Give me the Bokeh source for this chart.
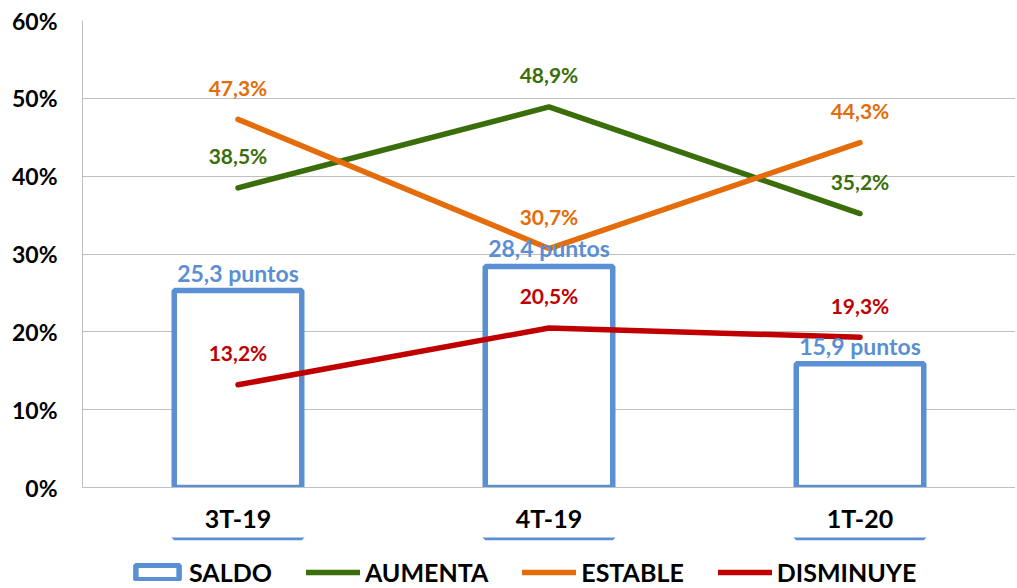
from bokeh.plotting import figure
from bokeh.layouts import column
from bokeh.models import (ColumnDataSource, FactorRange, Range1d, FixedTicker,
                          PrintfTickFormatter, Legend, LegendItem)
from bokeh.core.properties import value
from bokeh.embed import file_html
from bokeh.resources import INLINE

categories = ["3T-19", "4T-19", "1T-20"]
saldo = [25.3, 28.4, 15.9]
aumenta = [38.5, 48.9, 35.2]
estable = [47.3, 30.7, 44.3]
disminuye = [13.2, 20.5, 19.3]
y_ticks = [0, 10, 20, 30, 40, 50, 60]
series_names = ["SALDO", "AUMENTA", "ESTABLE", "DISMINUYE"]

C_SALDO = "#5B8FD3"
C_AUM = "#3A6E0A"
C_EST = "#E46C0A"
C_DIS = "#C00000"
FONT = "Lato"
LW = 5.5


def fmt(v, suffix):
    return f"{v:.1f}".replace(".", ",") + suffix


src = ColumnDataSource(dict(
    x=categories, saldo=saldo, aumenta=aumenta, estable=estable, disminuye=disminuye,
    saldo_lbl=[fmt(v, " puntos") for v in saldo],
    aum_lbl=[fmt(v, "%") for v in aumenta],
    est_lbl=[fmt(v, "%") for v in estable],
    dis_lbl=[fmt(v, "%") for v in disminuye],
))

p = figure(x_range=FactorRange(*categories, range_padding=0),
           y_range=Range1d(0, 60),
           width=1015, height=537,
           min_border_left=82, min_border_right=0, min_border_top=20, min_border_bottom=50,
           output_backend="svg", toolbar_location=None)
p.outline_line_color = None
p.background_fill_color = "white"

# grid
p.xgrid.grid_line_color = None
p.ygrid.grid_line_color = "#BFBFBF"
p.ygrid.grid_line_width = 1
p.ygrid.ticker = FixedTicker(ticks=y_ticks)

# axes
p.yaxis.ticker = FixedTicker(ticks=y_ticks)
p.yaxis.formatter = PrintfTickFormatter(format="%d%%")
for ax in (p.xaxis[0], p.yaxis[0]):
    ax.axis_line_color = "#BFBFBF"
    ax.axis_line_width = 1
    ax.major_tick_line_color = None
    ax.minor_tick_line_color = None
    ax.major_tick_out = 0
    ax.major_tick_in = 0
    ax.minor_tick_out = 0
    ax.minor_tick_in = 0
    ax.major_label_text_font = FONT
    ax.major_label_text_font_style = "bold"
    ax.major_label_text_color = "black"
p.yaxis.major_label_text_font_size = "23px"
p.yaxis.major_label_standoff = 25
p.xaxis.major_label_text_font_size = "25px"
p.xaxis.major_label_standoff = 15

# bars
p.vbar(x="x", top="saldo", width=0.41, source=src, fill_color="white",
       line_color=C_SALDO, line_width=LW)

# lines
for col, color in (("aumenta", C_AUM), ("estable", C_EST), ("disminuye", C_DIS)):
    p.line("x", col, source=src, line_color=color, line_width=LW,
           line_cap="round", line_join="round")


# labels
def labels(col, txt, color, off, size):
    p.text(x="x", y=col, text=txt, source=src, text_color=color,
           text_font=value(FONT), text_font_style="bold", text_font_size=size,
           text_align="center", text_baseline="middle", y_offset=off)


labels("saldo", "saldo_lbl", C_SALDO, -18, "23px")
labels("aumenta", "aum_lbl", C_AUM, -32, "21px")
labels("estable", "est_lbl", C_EST, -32, "21px")
labels("disminuye", "dis_lbl", C_DIS, -32, "21px")

# legend strip: a second figure below the chart whose view range lies far
# below the data, so only its legend samples are visible
lg = figure(width=1015, height=51,
            x_range=FactorRange(*categories, range_padding=0), y_range=Range1d(-1001, -1000),
            x_axis_location=None, y_axis_location=None, min_border=0,
            min_border_left=82, min_border_right=0,
            output_backend="svg", toolbar_location=None)
lg.outline_line_color = None
lg.grid.grid_line_color = None
r_saldo = lg.vbar(x="x", top="saldo", width=0.41, source=src, fill_color="white",
                  line_color=C_SALDO, line_width=LW)
r_aum = lg.line("x", "aumenta", source=src, line_color=C_AUM, line_width=LW, line_cap="round")
r_est = lg.line("x", "estable", source=src, line_color=C_EST, line_width=LW, line_cap="round")
r_dis = lg.line("x", "disminuye", source=src, line_color=C_DIS, line_width=LW, line_cap="round")

legend = Legend(items=[LegendItem(label=n, renderers=[r]) for n, r in
                       zip(series_names, [r_saldo, r_aum, r_est, r_dis])],
                orientation="horizontal", location=(48, 1))
legend.label_text_font = FONT
legend.label_text_font_style = "bold"
legend.label_text_font_size = "25px"
legend.label_text_color = "black"
legend.glyph_width = 54
legend.glyph_height = 18
legend.label_standoff = 5
legend.spacing = 34
legend.padding = 0
legend.margin = 0
legend.border_line_color = None
legend.background_fill_alpha = 0
lg.add_layout(legend, "center")

layout = column(p, lg, spacing=0)
open("out.html", "w").write(file_html(layout, INLINE))
